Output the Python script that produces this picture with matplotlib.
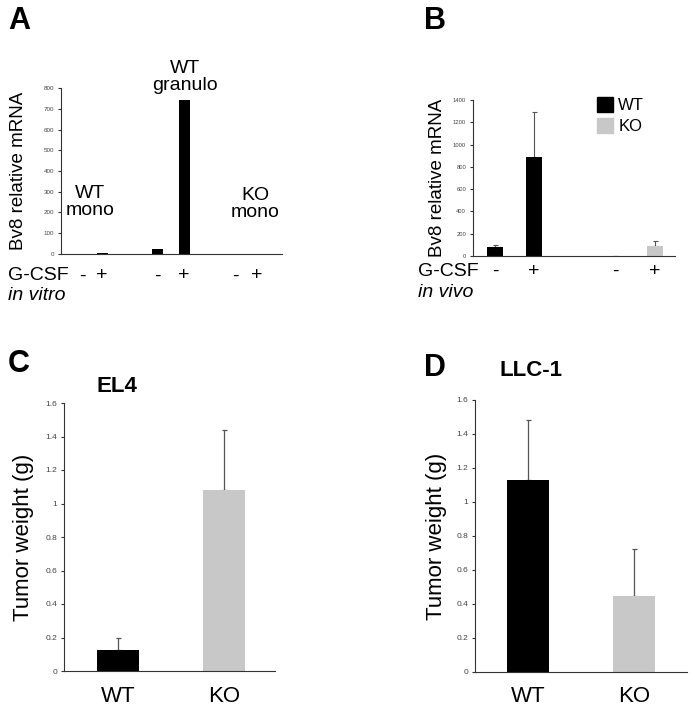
import matplotlib
matplotlib.use("Agg")
import matplotlib.pyplot as plt
from matplotlib.patches import Patch

# ---------------- data ----------------
a_signs = ["-", "+", "-", "+", "-", "+"]
a_values = [1, 5, 22, 740, 0, 0]
a_yticks = [0, 100, 200, 300, 400, 500, 600, 700, 800]

b_signs = ["-", "+", "-", "+"]
b_values = [85, 890, 3, 90]
b_errors = [12, 400, 0, 45]
b_genotype = ["WT", "WT", "KO", "KO"]
b_yticks = [0, 200, 400, 600, 800, 1000, 1200, 1400]

c_groups = ["WT", "KO"]
c_values = [0.125, 1.08]
c_errors = [0.075, 0.36]

d_groups = ["WT", "KO"]
d_values = [1.13, 0.445]
d_errors = [0.35, 0.28]

w_yticks = [0, 0.2, 0.4, 0.6, 0.8, 1.0, 1.2, 1.4, 1.6]
w_yticklabels = ["0", "0.2", "0.4", "0.6", "0.8", "1", "1.2", "1.4", "1.6"]

BLACK = "#000000"
GRAY = "#c8c8c8"
ECOL = "#555555"

W, H = 695, 712
plt.rcParams['font.family'] = ['Liberation Sans', 'DejaVu Sans']
fig = plt.figure(figsize=(W / 100, H / 100), dpi=100)
fig.patch.set_facecolor("white")

TICKFONT = dict(family=['Liberation Sans Narrow', 'Liberation Sans', 'DejaVu Sans'])


def rect(l, r, t, b):
    return [l / W, 1 - b / H, (r - l) / W, (b - t) / H]


def fx(x):
    return x / W


def fy(y):
    return 1 - y / H


def style(ax, ticks, labels=None, fs=4.5):
    for s in ["top", "right"]:
        ax.spines[s].set_visible(False)
    ax.spines["left"].set_linewidth(0.8)
    ax.spines["bottom"].set_linewidth(0.8)
    ax.spines["left"].set_color("#333333")
    ax.spines["bottom"].set_color("#333333")
    ax.set_yticks(ticks)
    ax.set_yticklabels(labels if labels else [str(t) for t in ticks],
                       fontsize=fs, color="#444444", **TICKFONT)
    ax.tick_params(axis="y", length=2, width=0.8, pad=3, color="#333333")
    ax.set_xticks([])


# ---------------- Panel A ----------------
axA = fig.add_axes(rect(61, 282, 88, 254))
a_pos = [21, 41, 96, 123, 174, 196]
axA.bar(a_pos, a_values, width=11, color=BLACK)
axA.set_xlim(0, 221)
axA.set_ylim(0, 800)
style(axA, a_yticks)
axA.set_ylabel("Bv8 relative mRNA", fontsize=13.5)
axA.yaxis.set_label_coords(-0.155, 0.5)
for p, s in zip(a_pos, a_signs):
    fig.text(fx(61 + p), fy(276), s, ha="center", va="center", fontsize=14)
fig.text(fx(8), fy(276), "G-CSF", ha="left", va="center", fontsize=14)
fig.text(fx(8), fy(295), "in vitro", ha="left", va="center", fontsize=14, style="italic")
fig.text(fx(90), fy(202), "WT\nmono", ha="center", va="center", fontsize=14, linespacing=1.05)
fig.text(fx(185), fy(77), "WT\ngranulo", ha="center", va="center", fontsize=14, linespacing=1.05)
fig.text(fx(255), fy(204), "KO\nmono", ha="center", va="center", fontsize=14, linespacing=1.05)
fig.text(fx(8), fy(21), "A", ha="left", va="center", fontsize=22, fontweight="bold")

# ---------------- Panel B ----------------
axB = fig.add_axes(rect(473, 675, 100, 256))
b_pos = [22, 61, 142, 182]
b_colors = [BLACK if g == "WT" else GRAY for g in b_genotype]
axB.bar(b_pos, b_values, width=16, color=b_colors, zorder=2)
axB.errorbar(b_pos, b_values, yerr=[[0] * len(b_errors), b_errors], fmt="none",
             ecolor=ECOL, elinewidth=0.8, capsize=1.8, capthick=0.8, zorder=1)
axB.set_xlim(0, 202)
axB.set_ylim(0, 1400)
style(axB, b_yticks, fs=4.2)
axB.set_ylabel("Bv8 relative mRNA", fontsize=13.5)
axB.yaxis.set_label_coords(-0.135, 0.5)
for p, s in zip(b_pos, b_signs):
    fig.text(fx(473 + p), fy(271), s, ha="center", va="center", fontsize=14)
fig.text(fx(418), fy(271), "G-CSF", ha="left", va="center", fontsize=14)
fig.text(fx(418), fy(293), "in vivo", ha="left", va="center", fontsize=14, style="italic")
fig.text(fx(424), fy(21), "B", ha="left", va="center", fontsize=22, fontweight="bold")
handles = [Patch(color=BLACK, label="WT"), Patch(color=GRAY, label="KO")]
fig.legend(handles=handles, loc="upper left", bbox_to_anchor=(fx(590), fy(90)),
           frameon=False, fontsize=12, handlelength=1.0, handleheight=1.0,
           handletextpad=0.3, labelspacing=0.3, borderaxespad=0)

# ---------------- Panel C ----------------
axC = fig.add_axes(rect(64, 275, 403, 671))
c_pos = [54, 160]
axC.bar(c_pos, c_values, width=42, color=[BLACK, GRAY], zorder=2)
axC.errorbar(c_pos, c_values, yerr=[[0, 0], c_errors], fmt="none",
             ecolor=ECOL, elinewidth=0.9, capsize=1.8, capthick=0.9, zorder=1)
axC.set_xlim(0, 211)
axC.set_ylim(0, 1.6)
style(axC, w_yticks, w_yticklabels, fs=6)
axC.set_ylabel("Tumor weight (g)", fontsize=16)
axC.yaxis.set_label_coords(-0.14, 0.5)
for p, g in zip(c_pos, c_groups):
    fig.text(fx(64 + p), fy(697), g, ha="center", va="center", fontsize=16)
fig.text(fx(117), fy(387), "EL4", ha="center", va="center", fontsize=16, fontweight="bold")
fig.text(fx(8), fy(364), "C", ha="left", va="center", fontsize=22, fontweight="bold")

# ---------------- Panel D ----------------
axD = fig.add_axes(rect(475, 687, 400, 672))
d_pos = [53, 159]
axD.bar(d_pos, d_values, width=42, color=[BLACK, GRAY], zorder=2)
axD.errorbar(d_pos, d_values, yerr=[[0, 0], d_errors], fmt="none",
             ecolor=ECOL, elinewidth=0.9, capsize=1.8, capthick=0.9, zorder=1)
axD.set_xlim(0, 212)
axD.set_ylim(0, 1.6)
style(axD, w_yticks, w_yticklabels, fs=6)
axD.set_ylabel("Tumor weight (g)", fontsize=16)
axD.yaxis.set_label_coords(-0.13, 0.5)
for p, g in zip(d_pos, d_groups):
    fig.text(fx(475 + p), fy(697), g, ha="center", va="center", fontsize=16)
fig.text(fx(531), fy(370), "LLC-1", ha="center", va="center", fontsize=16, fontweight="bold")
fig.text(fx(424), fy(368), "D", ha="left", va="center", fontsize=22, fontweight="bold")

fig.savefig("out.png", dpi=100, facecolor="white")
